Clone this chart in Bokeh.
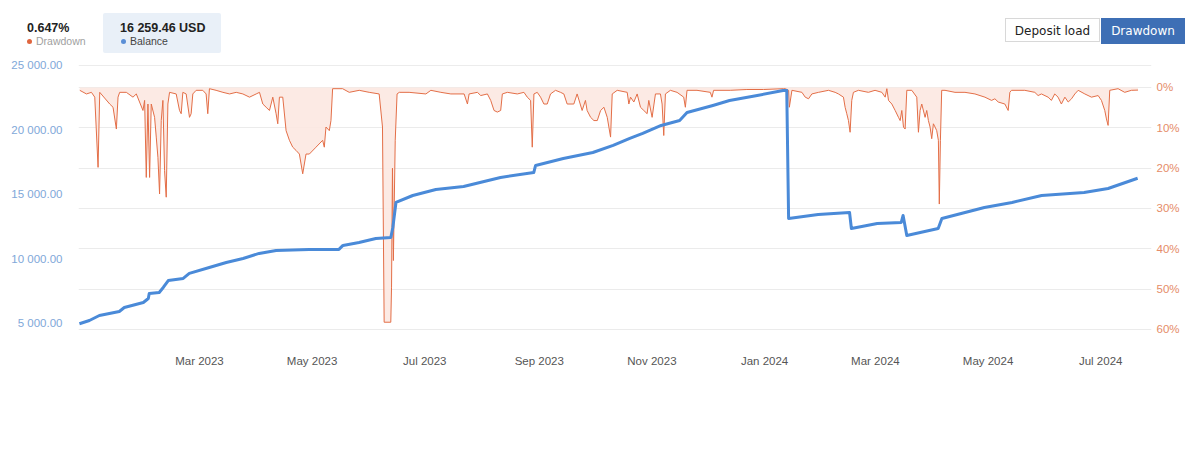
import pandas as pd
from bokeh.embed import file_html
from bokeh.layouts import column
from bokeh.models import (CustomJSTickFormatter, DatetimeTickFormatter, Div, FixedTicker,
                          Grid, LinearAxis, PrintfTickFormatter, Range1d, Span)
from bokeh.plotting import figure
from bokeh.resources import INLINE

START = pd.Timestamp("2022-12-26")

# balance curve: days since START, USD
bal_day = [0, 5.4, 10.8, 21.6, 24.3, 34.6, 37.3, 37.8, 43.2, 45.4,
           48.1, 56.2, 59.5, 70.3, 79.5, 88.6, 97.3, 106.5, 124.3, 140.5,
           142.7, 151.4, 160.5, 168.6, 169.7, 171.4, 180.5, 193, 208, 228,
           246, 247, 262, 278, 289, 298, 305, 315, 325, 329,
           343, 352, 367, 381, 383, 384, 400, 417, 418, 432,
           445, 446, 448, 465, 467, 490, 505, 521, 544, 557, 573]
bal_usd = [4980, 5230, 5620, 5930, 6240, 6630, 6940, 7330, 7400, 7790,
           8330, 8490, 8880, 9340, 9730, 10040, 10430, 10660, 10740, 10740,
           11050, 11280, 11590, 11670, 12440, 14380, 14920, 15390, 15620, 16320,
           16700, 17250, 17790, 18250, 18800, 19340, 19730, 20350, 20730, 21350,
           21900, 22280, 22670, 23060, 23060, 13140, 13450, 13600, 12360, 12750,
           12830, 13370, 11820, 12360, 13140, 13990, 14380, 14920, 15150, 15460, 16259.46]

# drawdown curve: days since START, percent
dd_day = [0.2, 3.8, 6.5, 8.3, 10.1, 11, 16.4, 18.2, 20, 20.9, 21.8, 25.4, 29, 30.8,
          34.4, 35.3, 36.2, 37.1, 38, 38.9, 40.7, 41.6, 42.5, 43.4, 44.3, 45.2, 46.1,
          47, 47.9, 48.8, 52.4, 54.2, 55.1, 56, 57.8, 59.6, 60.5, 61.4, 63.2, 66.8,
          68.6, 69.5, 70.4, 74, 77.7, 81.3, 84.9, 88.5, 92.1, 95.7, 97.5, 99.3, 101.1,
          102.9, 104.7, 106.5, 107.4, 108.3, 110.1, 111.9, 113.7, 115.5, 117.3, 119.1,
          120.9, 122.7, 124.5, 128.1, 131.7, 132.6, 133.5, 135.3, 136.2, 137.1, 142.5,
          146.1, 151.5, 156.9, 162.3, 164.1, 165, 168.6, 169, 169.5, 170, 171, 172,
          173.2, 178.5, 187.6,
          190.3, 195.7, 201.1, 208.3, 210.1, 211, 215.5, 217.3, 220.9, 222.7, 224.5,
          226.3, 228.1, 229, 231.7, 237.1, 240.7, 242.5, 244.3, 245.2, 246.1, 247.9,
          249.7, 251.5, 253.3, 255.1, 257.8, 260.5, 262.3, 264.1, 267.7, 269.5, 272.2,
          274, 274.9, 276.8, 278.6, 280.4, 282.2, 284, 285.8, 287.6, 288.5, 291.2,
          296.6, 297.5, 298.4, 300.2, 302, 303.8, 305.6, 307.4, 308.3, 310.1, 311.9,
          314.6, 315.5, 316.4, 317.3, 320, 323.6, 327.2, 328.1, 329, 334.4, 341.6,
          342.5, 343.4, 352.4, 361.4, 370.5, 381.3,
          382.2, 384, 384.4, 385.8, 391.2, 393, 394.8, 396.6, 400.2, 405.6, 409.2, 411,
          413.7, 414.6, 415.5, 416.4, 417.3, 418.2, 419.1, 421.8, 427.2, 430.8, 434.5,
          436.3, 437.2, 438.1, 439.9, 441.7, 443.5, 444.4, 445.3, 446.2, 447.1, 448,
          450.7, 453.4, 454.3, 455.2, 456.1, 457.9, 458.8, 459.7, 460.6, 461.5, 462.4,
          463.3, 464.2, 465.1, 465.6, 466.2, 466.9, 468.7, 474.1, 479.5, 484.9, 490.3,
          493.9, 495.7, 497.5, 501.1, 502.9, 503.8, 504.7, 511.9, 517.3, 519.1, 520.9,
          524.5, 526.3, 528.1, 529.9, 531.7, 533.6, 535.4, 537.2, 539, 540.8, 544.4,
          548, 551.6, 553.4, 555.2, 556.1, 557, 557.9, 562.4, 566, 569.6, 573.2]
dd_pct = [0.7, 1.6, 1.2, 2.4, 19.8, 1.2, 4.1, 4.9, 10.3, 2.4, 1.2, 1.2, 2.4, 1.6,
          5.7, 3.2, 22.3, 4.1, 22.3, 4.1, 7.4, 12.3, 17.3, 26.4, 8.2, 3.2, 20.6,
          27.2, 4.1, 1.2, 1.6, 5.7, 6.5, 1.2, 1.6, 7.4, 6.5, 1.6, 0.7, 0.7,
          1.6, 6.5, 0.3, 0.7, 1.2, 1.6, 1.2, 1.6, 2.4, 1.6, 1.2, 4.1, 4.9,
          5.7, 2.4, 6.5, 9.0, 2.4, 2.4, 10.7, 13.1, 14.8, 15.6, 16.5,
          21.4, 16.5, 16.5, 14.8, 13.1, 14.8, 9.8, 10.7, 8.2, 0.3, 0.3,
          1.2, 0.7, 1.2, 1.6, 9.8, 58.2, 58.2, 49.5, 20.0, 42.9, 13.1, 1.6,
          1.2, 1.2, 1.6,
          0.7, 1.2, 1.6, 1.6, 4.1, 1.6, 1.2, 2.0, 1.6, 3.2, 5.7,
          6.1, 5.7, 1.6, 1.2, 1.6, 1.2, 2.4, 3.2, 14.8, 1.6, 1.2,
          2.4, 4.1, 4.1, 1.6, 0.7, 1.2, 1.6, 4.1, 4.1, 1.6, 5.7,
          3.2, 5.7, 7.4, 8.2, 8.2, 5.7, 4.9, 7.4, 12.3, 1.6, 0.7,
          1.2, 4.1, 2.4, 3.6, 1.6, 4.9, 5.7, 6.5, 3.2, 7.4, 1.6,
          1.6, 4.1, 11.9, 1.6, 0.7, 1.2, 2.4, 4.9, 0.7, 0.7, 1.2,
          2.4, 0.7, 0.7, 0.5, 0.5, 0.3,
          0.3, 0.7, 4.9, 0.7, 1.2, 2.4, 2.8, 1.6, 1.2, 0.7, 1.2, 1.6,
          2.4, 4.9, 6.5, 8.2, 11.1, 3.2, 1.2, 0.7, 1.2, 0.7, 1.2,
          2.4, 0.3, 3.2, 4.1, 5.7, 7.4, 8.2, 5.7, 9.8, 10.3, 0.7,
          0.7, 2.4, 11.1, 5.7, 4.1, 7.4, 5.7, 8.2, 9.8, 12.7, 9.0,
          9.8, 10.7, 13.1, 28.9, 13.1, 0.7, 0.7, 1.2, 1.2, 1.6, 2.4,
          3.2, 2.8, 3.6, 4.1, 5.7, 1.2, 0.7, 0.7, 1.2, 2.0, 1.6,
          2.4, 3.2, 1.6, 2.4, 4.1, 2.4, 3.6, 2.8, 1.6, 0.7, 1.6,
          2.4, 2.0, 3.2, 5.7, 7.8, 9.4, 0.7, 0.3, 1.2, 0.7, 0.647]

x_ticks = ["2023-03-01", "2023-05-01", "2023-07-01", "2023-09-01", "2023-11-01",
           "2024-01-01", "2024-03-01", "2024-05-01", "2024-07-01"]
usd_ticks = [5000, 10000, 15000, 20000, 25000]
dd_ticks = [0, 10, 20, 30, 40, 50, 60]

last_dd = 0.647
last_balance = 16259.46

DAY_MS = 86400000
t0 = START.value // 10**6


def to_ms(days):
    return [t0 + d * DAY_MS for d in days]


FONT = "Liberation Sans"

# header row (summary values + the two toggle buttons)
balance_txt = f"{last_balance:,.2f}".replace(",", " ") + " USD"
header_html = f"""
<div style="position:relative;width:1182px;height:56px;font-family:'Liberation Sans',sans-serif;">
  <div style="position:absolute;left:103px;top:13px;width:118px;height:40px;background:#e9f0f8;border-radius:2px;"></div>
  <div style="position:absolute;left:27px;top:22px;font-size:12.5px;line-height:1;font-weight:bold;color:#222;">{last_dd}%</div>
  <div style="position:absolute;left:120px;top:22px;font-size:12.5px;line-height:1;font-weight:bold;color:#222;">{balance_txt}</div>
  <div style="position:absolute;left:26.5px;top:38.5px;width:5px;height:5px;border-radius:50%;background:#e0663f;"></div>
  <div style="position:absolute;left:36px;top:36px;font-size:10.5px;line-height:1;color:#a0a0a0;">Drawdown</div>
  <div style="position:absolute;left:120.5px;top:38.5px;width:5px;height:5px;border-radius:50%;background:#5b8fd6;"></div>
  <div style="position:absolute;left:130px;top:36px;font-size:10.5px;line-height:1;color:#444;">Balance</div>
  <div style="position:absolute;left:1005px;top:18px;width:95px;height:24px;border:1px solid #d8d8d8;background:#fff;
              font-family:'DejaVu Sans',sans-serif;font-size:12px;line-height:24px;text-align:center;color:#222;">Deposit load</div>
  <div style="position:absolute;left:1101px;top:18px;width:84px;height:26px;background:#3e6fb5;
              font-family:'DejaVu Sans',sans-serif;font-size:12px;line-height:26px;text-align:center;color:#fff;">Drawdown</div>
</div>
"""
header = Div(text=header_html, width=1182, height=56, margin=0)

p = figure(width=1182, height=387, x_axis_type="datetime",
           x_range=Range1d(t0 - 0.5 * DAY_MS, t0 + 580.5 * DAY_MS),
           y_range=Range1d(3682, 25072),
           output_backend="svg", toolbar_location=None,
           min_border_left=78, min_border_right=30, min_border_top=8, min_border_bottom=103)
p.outline_line_color = None
p.xgrid.visible = False
p.ygrid.visible = False
p.extra_y_ranges = {"dd": Range1d(start=62.73, end=-5.70)}

p.xaxis.ticker = FixedTicker(ticks=[pd.Timestamp(t).value // 10**6 for t in x_ticks])
p.xaxis.formatter = DatetimeTickFormatter(years="%b %Y", months="%b %Y", days="%b %Y")
p.yaxis.ticker = FixedTicker(ticks=usd_ticks)
p.yaxis.formatter = CustomJSTickFormatter(code=r"""
    var s = tick.toFixed(2).split('.');
    return s[0].replace(/\B(?=(\d{3})+(?!\d))/g, ' ') + '.' + s[1];
""")

ax_r = LinearAxis(y_range_name="dd", ticker=FixedTicker(ticks=dd_ticks),
                  formatter=PrintfTickFormatter(format="%d%%"))
p.add_layout(ax_r, "right")

for ax, color, standoff in [(p.xaxis[0], "#555555", 14), (p.yaxis[0], "#7fa8d9", 16),
                            (ax_r, "#e58c68", 5)]:
    ax.axis_line_color = None
    ax.major_tick_line_color = None
    ax.minor_tick_line_color = None
    ax.major_tick_out = 0
    ax.major_tick_in = 0
    ax.minor_tick_out = 0
    ax.major_label_standoff = standoff
    ax.major_label_text_color = color
    ax.major_label_text_font = FONT
    ax.major_label_text_font_size = "11.5px"

p.add_layout(Grid(dimension=1, ticker=FixedTicker(ticks=dd_ticks), y_range_name="dd",
                  grid_line_color="#ebebeb"))
p.add_layout(Span(location=25000, dimension="width", line_color="#ebebeb", line_width=1))

dd_x = to_ms(dd_day)
p.varea(x=dd_x, y1=0, y2=dd_pct, y_range_name="dd", fill_color="#fce8e1", fill_alpha=0.9)
p.line(dd_x, dd_pct, y_range_name="dd", line_color="#e36e47", line_width=1)
p.line(to_ms(bal_day), bal_usd, line_color="#4a8ad8", line_width=3, line_join="round")

layout = column(header, p, spacing=0)
open("out.html", "w").write(file_html(layout, INLINE))
